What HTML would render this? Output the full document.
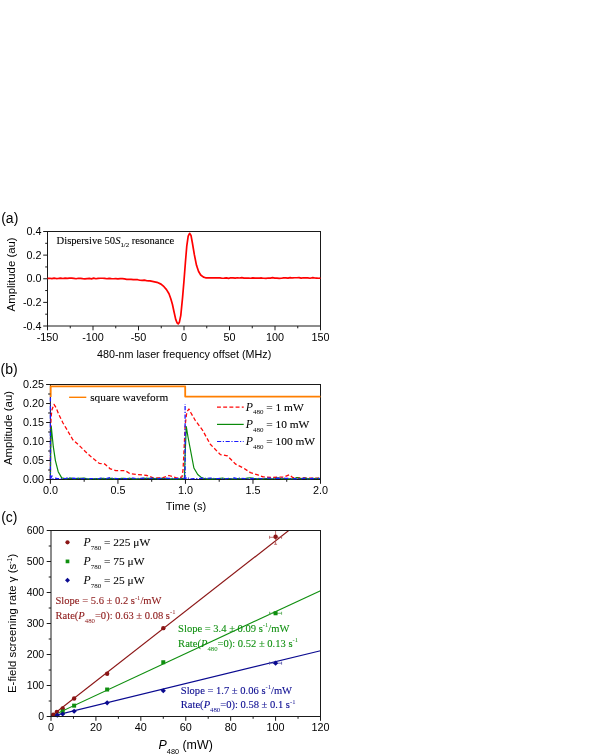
<!DOCTYPE html>
<html><head><meta charset="utf-8"><title>Figure</title>
<style>
html,body{margin:0;padding:0;background:#fff;}
body{width:595px;height:756px;overflow:hidden;font-family:"Liberation Sans",sans-serif;}
svg{display:block;will-change:transform;}
</style></head>
<body>
<svg width="595" height="756" viewBox="0 0 595 756">
<rect x="47.50" y="231.50" width="273.00" height="94.50" fill="none" stroke="#1a1a1a" stroke-width="1"/>
<line x1="43.20" y1="231.50" x2="47.50" y2="231.50" stroke="#1a1a1a" stroke-width="1" />
<text x="41.50" y="235.20" font-size="10.8" font-family='"Liberation Sans", sans-serif' text-anchor="end" fill="#000" >0.4</text>
<line x1="43.20" y1="255.12" x2="47.50" y2="255.12" stroke="#1a1a1a" stroke-width="1" />
<text x="41.50" y="258.82" font-size="10.8" font-family='"Liberation Sans", sans-serif' text-anchor="end" fill="#000" >0.2</text>
<line x1="43.20" y1="278.75" x2="47.50" y2="278.75" stroke="#1a1a1a" stroke-width="1" />
<text x="41.50" y="282.45" font-size="10.8" font-family='"Liberation Sans", sans-serif' text-anchor="end" fill="#000" >0.0</text>
<line x1="43.20" y1="302.38" x2="47.50" y2="302.38" stroke="#1a1a1a" stroke-width="1" />
<text x="41.50" y="306.07" font-size="10.8" font-family='"Liberation Sans", sans-serif' text-anchor="end" fill="#000" >-0.2</text>
<line x1="43.20" y1="326.00" x2="47.50" y2="326.00" stroke="#1a1a1a" stroke-width="1" />
<text x="41.50" y="329.70" font-size="10.8" font-family='"Liberation Sans", sans-serif' text-anchor="end" fill="#000" >-0.4</text>
<line x1="45.20" y1="243.31" x2="47.50" y2="243.31" stroke="#1a1a1a" stroke-width="1" />
<line x1="45.20" y1="266.94" x2="47.50" y2="266.94" stroke="#1a1a1a" stroke-width="1" />
<line x1="45.20" y1="290.56" x2="47.50" y2="290.56" stroke="#1a1a1a" stroke-width="1" />
<line x1="45.20" y1="314.19" x2="47.50" y2="314.19" stroke="#1a1a1a" stroke-width="1" />
<line x1="47.50" y1="326.00" x2="47.50" y2="330.30" stroke="#1a1a1a" stroke-width="1" />
<text x="47.50" y="340.60" font-size="10.8" font-family='"Liberation Sans", sans-serif' text-anchor="middle" fill="#000" >-150</text>
<line x1="93.00" y1="326.00" x2="93.00" y2="330.30" stroke="#1a1a1a" stroke-width="1" />
<text x="93.00" y="340.60" font-size="10.8" font-family='"Liberation Sans", sans-serif' text-anchor="middle" fill="#000" >-100</text>
<line x1="138.50" y1="326.00" x2="138.50" y2="330.30" stroke="#1a1a1a" stroke-width="1" />
<text x="138.50" y="340.60" font-size="10.8" font-family='"Liberation Sans", sans-serif' text-anchor="middle" fill="#000" >-50</text>
<line x1="184.00" y1="326.00" x2="184.00" y2="330.30" stroke="#1a1a1a" stroke-width="1" />
<text x="184.00" y="340.60" font-size="10.8" font-family='"Liberation Sans", sans-serif' text-anchor="middle" fill="#000" >0</text>
<line x1="229.50" y1="326.00" x2="229.50" y2="330.30" stroke="#1a1a1a" stroke-width="1" />
<text x="229.50" y="340.60" font-size="10.8" font-family='"Liberation Sans", sans-serif' text-anchor="middle" fill="#000" >50</text>
<line x1="275.00" y1="326.00" x2="275.00" y2="330.30" stroke="#1a1a1a" stroke-width="1" />
<text x="275.00" y="340.60" font-size="10.8" font-family='"Liberation Sans", sans-serif' text-anchor="middle" fill="#000" >100</text>
<line x1="320.50" y1="326.00" x2="320.50" y2="330.30" stroke="#1a1a1a" stroke-width="1" />
<text x="320.50" y="340.60" font-size="10.8" font-family='"Liberation Sans", sans-serif' text-anchor="middle" fill="#000" >150</text>
<line x1="70.25" y1="326.00" x2="70.25" y2="328.30" stroke="#1a1a1a" stroke-width="1" />
<line x1="115.75" y1="326.00" x2="115.75" y2="328.30" stroke="#1a1a1a" stroke-width="1" />
<line x1="161.25" y1="326.00" x2="161.25" y2="328.30" stroke="#1a1a1a" stroke-width="1" />
<line x1="206.75" y1="326.00" x2="206.75" y2="328.30" stroke="#1a1a1a" stroke-width="1" />
<line x1="252.25" y1="326.00" x2="252.25" y2="328.30" stroke="#1a1a1a" stroke-width="1" />
<line x1="297.75" y1="326.00" x2="297.75" y2="328.30" stroke="#1a1a1a" stroke-width="1" />
<text x="1.20" y="222.60" font-size="14" font-family='"Liberation Sans", sans-serif' text-anchor="start" fill="#000" >(a)</text>
<text x="184.10" y="357.80" font-size="10.75" font-family='"Liberation Sans", sans-serif' text-anchor="middle" fill="#000" >480-nm laser frequency offset (MHz)</text>
<text transform="translate(15.4,274.4) rotate(-90)" font-size="11.4" font-family='"Liberation Sans", sans-serif' text-anchor="middle" fill="#000">Amplitude (au)</text>
<text x="56.6" y="244.2" font-size="10.6" stroke="#000" stroke-width="0.1" font-family='"Liberation Serif", serif' fill="#000">Dispersive 50<tspan font-style="italic">S</tspan><tspan font-size="6.8" dy="3">1/2</tspan><tspan dy="-3"> resonance</tspan></text>
<polyline points="47.50,278.38 49.70,278.26 51.90,278.61 54.10,278.20 56.30,278.53 58.50,278.41 60.70,278.19 62.90,278.51 65.10,278.18 67.30,278.45 69.50,278.20 71.70,278.21 73.90,278.45 76.10,278.73 78.30,278.24 80.50,278.31 82.70,278.59 84.90,278.81 87.10,278.55 89.30,278.43 91.50,278.83 93.70,278.18 95.90,278.75 98.10,278.35 100.30,278.25 102.50,278.24 104.70,278.39 106.90,278.77 109.10,278.36 111.30,278.68 113.50,278.77 115.70,278.65 117.90,278.84 120.10,278.58 122.30,278.67 124.50,278.87 126.70,279.31 128.90,279.25 131.10,279.30 133.30,279.62 135.50,279.68 137.70,279.72 139.90,280.23 142.10,280.34 144.30,280.20 146.50,280.63 148.70,280.79 150.00,280.90 157.00,282.30 161.00,284.10 164.00,286.70 166.50,289.60 169.00,293.80 170.80,298.80 172.40,304.20 173.80,310.80 175.70,319.40 177.10,322.90 178.20,323.90 179.40,322.20 180.80,315.30 182.60,297.20 184.00,280.60 185.40,262.50 186.80,245.80 188.20,236.10 189.60,233.30 191.00,235.40 192.40,243.00 194.40,254.90 196.50,265.30 198.60,271.50 200.70,275.00 203.50,277.10 205.60,277.80 212.50,277.90 220.00,277.80 222.00,278.26 224.20,278.16 226.40,277.85 228.60,278.34 230.80,277.73 233.00,277.94 235.20,278.18 237.40,277.76 239.60,277.99 241.80,277.68 244.00,278.12 246.20,278.19 248.40,278.05 250.60,278.26 252.80,277.87 255.00,278.14 257.20,278.07 259.40,278.06 261.60,277.97 263.80,278.24 266.00,278.31 268.20,277.98 270.40,278.11 272.60,277.69 274.80,278.14 277.00,278.10 279.20,278.35 281.40,278.23 283.60,277.85 285.80,277.92 288.00,278.12 290.20,277.67 292.40,277.97 294.60,277.77 296.80,277.73 299.00,277.69 301.20,278.19 303.40,277.74 305.60,277.82 307.80,277.92 310.00,278.26 312.20,277.71 314.40,277.96 316.60,278.03 318.80,278.27 320.50,278.10" fill="none" stroke="#ff0000" stroke-width="1.7" stroke-linejoin="round" />
<rect x="50.40" y="384.50" width="270.10" height="95.00" fill="none" stroke="#1a1a1a" stroke-width="1"/>
<polyline points="50.40,478.50 50.60,440.00 51.00,418.00 51.90,409.90 54.00,404.30 56.10,407.80 58.90,414.70 63.00,423.00 67.20,430.00 72.80,439.70 78.30,444.60 85.30,451.50 92.20,457.80 99.20,463.30 104.70,464.00 110.30,468.90 115.80,470.60 125.20,470.60 130.20,473.80 138.60,474.60 147.00,475.50 153.70,478.00 162.00,478.00 168.90,475.50 177.30,478.00 182.00,477.00 183.00,470.00 183.80,455.60 185.20,425.00 186.80,412.00 188.90,409.00 191.00,413.00 195.20,420.30 202.70,430.40 210.30,444.30 220.40,454.60 227.30,455.80 235.70,464.20 244.10,468.40 250.40,472.60 257.80,474.90 263.00,476.80 271.40,477.50 284.00,477.00 289.30,474.70 292.60,477.50 305.00,478.00 320.00,478.20" fill="none" stroke="#ff0808" stroke-width="1.3" stroke-linejoin="round" stroke-dasharray="3.9 2.3"/>
<polyline points="50.40,478.80 50.70,450.00 51.25,426.50 52.20,436.00 53.30,446.70 55.40,460.60 58.20,471.70 61.70,477.90 66.00,478.80 68.00,478.52 71.10,478.08 74.20,478.82 77.30,478.44 80.40,478.31 83.50,478.18 86.60,478.65 89.70,478.83 92.80,478.75 95.90,478.61 99.00,478.85 102.10,478.38 105.20,478.60 108.30,478.71 111.40,478.43 114.50,478.89 117.60,478.50 120.70,478.47 123.80,478.24 126.90,478.70 130.00,478.28 133.10,478.84 136.20,478.83 139.30,478.77 142.40,478.27 145.50,478.44 148.60,478.33 151.70,478.33 154.80,478.55 157.90,478.62 161.00,478.39 164.10,478.51 167.20,478.74 170.30,478.84 173.40,478.83 176.50,478.64 179.60,478.82 182.00,478.60 184.40,478.60 185.30,450.00 186.30,426.60 188.00,437.00 190.10,448.00 193.90,468.00 197.70,474.50 201.50,477.60 205.00,478.70 207.00,478.78 210.10,478.64 213.20,478.90 216.30,478.56 219.40,478.65 222.50,478.00 225.60,478.75 228.70,478.71 231.80,478.73 234.90,478.89 238.00,478.48 241.10,478.75 244.20,478.73 247.30,478.07 250.40,477.75 253.50,478.39 256.60,478.79 259.70,478.72 262.80,478.79 265.90,478.71 269.00,478.61 272.10,478.77 275.20,478.67 278.30,477.81 281.40,478.74 284.50,478.65 287.60,478.86 290.70,478.80 293.80,478.87 296.90,477.67 300.00,478.68 303.10,478.45 306.20,478.37 309.30,478.87 312.40,478.47 315.50,478.51 318.60,478.23 320.00,478.60" fill="none" stroke="#0a8a0a" stroke-width="1.2" stroke-linejoin="round" />
<polyline points="50.60,478.80 52.00,475.80 53.00,478.80 55.00,478.12 57.70,478.66 60.40,478.66 63.10,478.55 65.80,478.36 68.50,477.73 71.20,478.36 73.90,478.22 76.60,478.53 79.30,478.20 82.00,478.73 84.70,478.32 87.40,478.74 90.10,478.72 92.80,478.48 95.50,478.74 98.20,478.76 100.90,478.19 103.60,478.38 106.30,478.68 109.00,477.70 111.70,478.34 114.40,478.43 117.10,478.69 119.80,478.75 122.50,478.52 125.20,478.71 127.90,478.54 130.60,478.19 133.30,478.20 136.00,478.55 138.70,478.41 141.40,478.39 144.10,478.21 146.80,478.29 149.50,478.50 152.20,478.21 154.90,478.42 157.60,478.80 160.30,478.34 163.00,478.49 165.70,478.16 168.40,478.44 171.10,478.18 173.80,478.40 176.50,478.73 179.20,478.01 181.90,478.24 184.20,478.50 185.35,478.60 187.50,477.20 189.00,478.80 191.00,478.76 193.70,478.56 196.40,478.64 199.10,478.64 201.80,478.20 204.50,478.39 207.20,478.35 209.90,478.21 212.60,478.22 215.30,478.73 218.00,478.50 220.70,478.39 223.40,478.75 226.10,478.75 228.80,478.23 231.50,478.69 234.20,477.88 236.90,478.65 239.60,478.06 242.30,478.47 245.00,478.67 247.70,478.56 250.40,478.80 253.10,478.47 255.80,478.77 258.50,478.27 261.20,478.78 263.90,478.38 266.60,478.20 269.30,478.16 272.00,478.53 274.70,478.45 277.40,478.05 280.10,478.37 282.80,478.01 285.50,478.37 288.20,478.31 290.90,478.79 293.60,478.72 296.30,478.79 299.00,478.56 301.70,478.71 304.40,478.08 307.10,478.78 309.80,478.59 312.50,478.40 315.20,478.72 317.90,478.30 320.00,478.50" fill="none" stroke="#1a1aff" stroke-width="1.2" stroke-linejoin="round" stroke-dasharray="4.2 1.6 1.2 1.6"/>
<line x1="50.40" y1="479.00" x2="50.40" y2="397.40" stroke="#1a1aff" stroke-width="1.3" stroke-dasharray="4.2 1.6 1.2 1.6"/>
<line x1="185.10" y1="479.00" x2="185.10" y2="404.00" stroke="#1a1aff" stroke-width="1.3" stroke-dasharray="4.2 1.6 1.2 1.6"/>
<polyline points="50.70,397.00 50.70,386.30 185.20,386.30 185.20,396.60 320.50,396.60" fill="none" stroke="#ff7f00" stroke-width="1.8" stroke-linejoin="round" stroke-linejoin="miter"/>
<line x1="46.10" y1="384.50" x2="50.40" y2="384.50" stroke="#1a1a1a" stroke-width="1" />
<text x="44.00" y="388.20" font-size="10.8" font-family='"Liberation Sans", sans-serif' text-anchor="end" fill="#000" >0.25</text>
<line x1="46.10" y1="403.50" x2="50.40" y2="403.50" stroke="#1a1a1a" stroke-width="1" />
<text x="44.00" y="407.20" font-size="10.8" font-family='"Liberation Sans", sans-serif' text-anchor="end" fill="#000" >0.20</text>
<line x1="46.10" y1="422.50" x2="50.40" y2="422.50" stroke="#1a1a1a" stroke-width="1" />
<text x="44.00" y="426.20" font-size="10.8" font-family='"Liberation Sans", sans-serif' text-anchor="end" fill="#000" >0.15</text>
<line x1="46.10" y1="441.50" x2="50.40" y2="441.50" stroke="#1a1a1a" stroke-width="1" />
<text x="44.00" y="445.20" font-size="10.8" font-family='"Liberation Sans", sans-serif' text-anchor="end" fill="#000" >0.10</text>
<line x1="46.10" y1="460.50" x2="50.40" y2="460.50" stroke="#1a1a1a" stroke-width="1" />
<text x="44.00" y="464.20" font-size="10.8" font-family='"Liberation Sans", sans-serif' text-anchor="end" fill="#000" >0.05</text>
<line x1="46.10" y1="479.50" x2="50.40" y2="479.50" stroke="#1a1a1a" stroke-width="1" />
<text x="44.00" y="483.20" font-size="10.8" font-family='"Liberation Sans", sans-serif' text-anchor="end" fill="#000" >0.00</text>
<line x1="48.10" y1="394.00" x2="50.40" y2="394.00" stroke="#1a1a1a" stroke-width="1" />
<line x1="48.10" y1="413.00" x2="50.40" y2="413.00" stroke="#1a1a1a" stroke-width="1" />
<line x1="48.10" y1="432.00" x2="50.40" y2="432.00" stroke="#1a1a1a" stroke-width="1" />
<line x1="48.10" y1="451.00" x2="50.40" y2="451.00" stroke="#1a1a1a" stroke-width="1" />
<line x1="48.10" y1="470.00" x2="50.40" y2="470.00" stroke="#1a1a1a" stroke-width="1" />
<line x1="50.40" y1="479.50" x2="50.40" y2="483.80" stroke="#1a1a1a" stroke-width="1" />
<text x="50.40" y="494.10" font-size="10.8" font-family='"Liberation Sans", sans-serif' text-anchor="middle" fill="#000" >0.0</text>
<line x1="117.93" y1="479.50" x2="117.93" y2="483.80" stroke="#1a1a1a" stroke-width="1" />
<text x="117.93" y="494.10" font-size="10.8" font-family='"Liberation Sans", sans-serif' text-anchor="middle" fill="#000" >0.5</text>
<line x1="185.45" y1="479.50" x2="185.45" y2="483.80" stroke="#1a1a1a" stroke-width="1" />
<text x="185.45" y="494.10" font-size="10.8" font-family='"Liberation Sans", sans-serif' text-anchor="middle" fill="#000" >1.0</text>
<line x1="252.98" y1="479.50" x2="252.98" y2="483.80" stroke="#1a1a1a" stroke-width="1" />
<text x="252.98" y="494.10" font-size="10.8" font-family='"Liberation Sans", sans-serif' text-anchor="middle" fill="#000" >1.5</text>
<line x1="320.50" y1="479.50" x2="320.50" y2="483.80" stroke="#1a1a1a" stroke-width="1" />
<text x="320.50" y="494.10" font-size="10.8" font-family='"Liberation Sans", sans-serif' text-anchor="middle" fill="#000" >2.0</text>
<line x1="84.16" y1="479.50" x2="84.16" y2="481.80" stroke="#1a1a1a" stroke-width="1" />
<line x1="151.69" y1="479.50" x2="151.69" y2="481.80" stroke="#1a1a1a" stroke-width="1" />
<line x1="219.21" y1="479.50" x2="219.21" y2="481.80" stroke="#1a1a1a" stroke-width="1" />
<line x1="286.74" y1="479.50" x2="286.74" y2="481.80" stroke="#1a1a1a" stroke-width="1" />
<text x="0.60" y="373.60" font-size="14" font-family='"Liberation Sans", sans-serif' text-anchor="start" fill="#000" >(b)</text>
<text x="186.00" y="510.30" font-size="11.1" font-family='"Liberation Sans", sans-serif' text-anchor="middle" fill="#000" >Time (s)</text>
<text transform="translate(12.4,428) rotate(-90)" font-size="11.4" font-family='"Liberation Sans", sans-serif' text-anchor="middle" fill="#000">Amplitude (au)</text>
<line x1="69.10" y1="397.30" x2="86.30" y2="397.30" stroke="#ff7f00" stroke-width="1.4" />
<text x="90.20" y="400.50" font-size="11.3" font-family='"Liberation Serif", serif' text-anchor="start" fill="#000" stroke="#000" stroke-width="0.1">square waveform</text>
<line x1="217.00" y1="407.20" x2="243.70" y2="407.20" stroke="#ff0808" stroke-width="1.3" stroke-dasharray="3.9 2.3"/>
<line x1="217.00" y1="424.40" x2="243.70" y2="424.40" stroke="#0a8a0a" stroke-width="1.2" />
<line x1="217.00" y1="441.50" x2="243.70" y2="441.50" stroke="#1a1aff" stroke-width="1.2" stroke-dasharray="4.2 1.6 1.2 1.6"/>
<text x="245.70" y="411.10" font-size="11.4" font-family='"Liberation Serif", serif' fill="#000" stroke="#000" stroke-width="0.1"><tspan font-style="italic" stroke="none" font-size="11.8">P</tspan><tspan font-size="7.0" dy="3.3" stroke="none">480</tspan><tspan dy="-3.3"> = 1 mW</tspan></text>
<text x="245.70" y="428.30" font-size="11.4" font-family='"Liberation Serif", serif' fill="#000" stroke="#000" stroke-width="0.1"><tspan font-style="italic" stroke="none" font-size="11.8">P</tspan><tspan font-size="7.0" dy="3.3" stroke="none">480</tspan><tspan dy="-3.3"> = 10 mW</tspan></text>
<text x="245.70" y="445.40" font-size="11.4" font-family='"Liberation Serif", serif' fill="#000" stroke="#000" stroke-width="0.1"><tspan font-style="italic" stroke="none" font-size="11.8">P</tspan><tspan font-size="7.0" dy="3.3" stroke="none">480</tspan><tspan dy="-3.3"> = 100 mW</tspan></text>
<clipPath id="cc"><rect x="51.0" y="530.5" width="269.50" height="186.00"/></clipPath>
<g clip-path="url(#cc)">
<line x1="51.00" y1="716.30" x2="320.50" y2="505.68" stroke="#8b1515" stroke-width="1.15" />
<line x1="51.00" y1="716.34" x2="320.50" y2="590.66" stroke="#0f8f0f" stroke-width="1.15" />
<line x1="51.00" y1="716.32" x2="320.50" y2="650.78" stroke="#0a0a90" stroke-width="1.15" />
</g>
<g clip-path="url(#cc)">
<line x1="269.58" y1="537.30" x2="281.58" y2="537.30" stroke="#b05050" stroke-width="0.8" />
<line x1="269.58" y1="535.80" x2="269.58" y2="538.80" stroke="#b05050" stroke-width="0.8" />
<line x1="281.58" y1="535.80" x2="281.58" y2="538.80" stroke="#b05050" stroke-width="0.8" />
<line x1="275.58" y1="530.30" x2="275.58" y2="544.30" stroke="#b05050" stroke-width="0.8" />
<line x1="274.08" y1="530.30" x2="277.08" y2="530.30" stroke="#b05050" stroke-width="0.8" />
<line x1="274.08" y1="544.30" x2="277.08" y2="544.30" stroke="#b05050" stroke-width="0.8" />
</g>
<line x1="269.58" y1="613.27" x2="281.58" y2="613.27" stroke="#50a850" stroke-width="0.8" />
<line x1="269.58" y1="611.77" x2="269.58" y2="614.77" stroke="#50a850" stroke-width="0.8" />
<line x1="281.58" y1="611.77" x2="281.58" y2="614.77" stroke="#50a850" stroke-width="0.8" />
<line x1="269.58" y1="663.18" x2="281.58" y2="663.18" stroke="#5050a8" stroke-width="0.8" />
<line x1="269.58" y1="661.68" x2="269.58" y2="664.68" stroke="#5050a8" stroke-width="0.8" />
<line x1="281.58" y1="661.68" x2="281.58" y2="664.68" stroke="#5050a8" stroke-width="0.8" />
<circle cx="53.25" cy="714.64" r="2.2" fill="#8b1515"/>
<circle cx="56.84" cy="711.85" r="2.2" fill="#8b1515"/>
<circle cx="62.68" cy="708.44" r="2.2" fill="#8b1515"/>
<circle cx="74.13" cy="698.52" r="2.2" fill="#8b1515"/>
<circle cx="107.15" cy="673.72" r="2.2" fill="#8b1515"/>
<circle cx="163.29" cy="628.15" r="2.2" fill="#8b1515"/>
<circle cx="275.58" cy="536.70" r="2.2" fill="#8b1515"/>
<rect x="60.68" y="709.54" width="4.0" height="4.0" fill="#0f8f0f"/>
<rect x="72.13" y="703.65" width="4.0" height="4.0" fill="#0f8f0f"/>
<rect x="105.15" y="687.53" width="4.0" height="4.0" fill="#0f8f0f"/>
<rect x="161.29" y="660.25" width="4.0" height="4.0" fill="#0f8f0f"/>
<rect x="273.58" y="611.27" width="4.0" height="4.0" fill="#0f8f0f"/>
<path d="M54.69,715.26 L57.29,712.66 L59.89,715.26 L57.29,717.86Z" fill="#0a0a90"/>
<path d="M60.08,714.02 L62.68,711.42 L65.28,714.02 L62.68,716.62Z" fill="#0a0a90"/>
<path d="M71.53,711.23 L74.13,708.63 L76.73,711.23 L74.13,713.83Z" fill="#0a0a90"/>
<path d="M104.55,702.86 L107.15,700.26 L109.75,702.86 L107.15,705.46Z" fill="#0a0a90"/>
<path d="M160.69,690.77 L163.29,688.17 L165.89,690.77 L163.29,693.37Z" fill="#0a0a90"/>
<path d="M272.98,663.18 L275.58,660.58 L278.18,663.18 L275.58,665.78Z" fill="#0a0a90"/>
<rect x="51.00" y="530.50" width="269.50" height="186.00" fill="none" stroke="#1a1a1a" stroke-width="1"/>
<line x1="46.70" y1="530.50" x2="51.00" y2="530.50" stroke="#1a1a1a" stroke-width="1" />
<text x="44.20" y="534.20" font-size="10.5" font-family='"Liberation Sans", sans-serif' text-anchor="end" fill="#000" >600</text>
<line x1="46.70" y1="561.50" x2="51.00" y2="561.50" stroke="#1a1a1a" stroke-width="1" />
<text x="44.20" y="565.20" font-size="10.5" font-family='"Liberation Sans", sans-serif' text-anchor="end" fill="#000" >500</text>
<line x1="46.70" y1="592.50" x2="51.00" y2="592.50" stroke="#1a1a1a" stroke-width="1" />
<text x="44.20" y="596.20" font-size="10.5" font-family='"Liberation Sans", sans-serif' text-anchor="end" fill="#000" >400</text>
<line x1="46.70" y1="623.50" x2="51.00" y2="623.50" stroke="#1a1a1a" stroke-width="1" />
<text x="44.20" y="627.20" font-size="10.5" font-family='"Liberation Sans", sans-serif' text-anchor="end" fill="#000" >300</text>
<line x1="46.70" y1="654.50" x2="51.00" y2="654.50" stroke="#1a1a1a" stroke-width="1" />
<text x="44.20" y="658.20" font-size="10.5" font-family='"Liberation Sans", sans-serif' text-anchor="end" fill="#000" >200</text>
<line x1="46.70" y1="685.50" x2="51.00" y2="685.50" stroke="#1a1a1a" stroke-width="1" />
<text x="44.20" y="689.20" font-size="10.5" font-family='"Liberation Sans", sans-serif' text-anchor="end" fill="#000" >100</text>
<line x1="46.70" y1="716.50" x2="51.00" y2="716.50" stroke="#1a1a1a" stroke-width="1" />
<text x="44.20" y="720.20" font-size="10.5" font-family='"Liberation Sans", sans-serif' text-anchor="end" fill="#000" >0</text>
<line x1="48.70" y1="546.00" x2="51.00" y2="546.00" stroke="#1a1a1a" stroke-width="1" />
<line x1="48.70" y1="577.00" x2="51.00" y2="577.00" stroke="#1a1a1a" stroke-width="1" />
<line x1="48.70" y1="608.00" x2="51.00" y2="608.00" stroke="#1a1a1a" stroke-width="1" />
<line x1="48.70" y1="639.00" x2="51.00" y2="639.00" stroke="#1a1a1a" stroke-width="1" />
<line x1="48.70" y1="670.00" x2="51.00" y2="670.00" stroke="#1a1a1a" stroke-width="1" />
<line x1="48.70" y1="701.00" x2="51.00" y2="701.00" stroke="#1a1a1a" stroke-width="1" />
<line x1="51.00" y1="716.50" x2="51.00" y2="720.80" stroke="#1a1a1a" stroke-width="1" />
<text x="51.00" y="731.10" font-size="10.8" font-family='"Liberation Sans", sans-serif' text-anchor="middle" fill="#000" >0</text>
<line x1="95.92" y1="716.50" x2="95.92" y2="720.80" stroke="#1a1a1a" stroke-width="1" />
<text x="95.92" y="731.10" font-size="10.8" font-family='"Liberation Sans", sans-serif' text-anchor="middle" fill="#000" >20</text>
<line x1="140.83" y1="716.50" x2="140.83" y2="720.80" stroke="#1a1a1a" stroke-width="1" />
<text x="140.83" y="731.10" font-size="10.8" font-family='"Liberation Sans", sans-serif' text-anchor="middle" fill="#000" >40</text>
<line x1="185.75" y1="716.50" x2="185.75" y2="720.80" stroke="#1a1a1a" stroke-width="1" />
<text x="185.75" y="731.10" font-size="10.8" font-family='"Liberation Sans", sans-serif' text-anchor="middle" fill="#000" >60</text>
<line x1="230.67" y1="716.50" x2="230.67" y2="720.80" stroke="#1a1a1a" stroke-width="1" />
<text x="230.67" y="731.10" font-size="10.8" font-family='"Liberation Sans", sans-serif' text-anchor="middle" fill="#000" >80</text>
<line x1="275.58" y1="716.50" x2="275.58" y2="720.80" stroke="#1a1a1a" stroke-width="1" />
<text x="275.58" y="731.10" font-size="10.8" font-family='"Liberation Sans", sans-serif' text-anchor="middle" fill="#000" >100</text>
<line x1="320.50" y1="716.50" x2="320.50" y2="720.80" stroke="#1a1a1a" stroke-width="1" />
<text x="320.50" y="731.10" font-size="10.8" font-family='"Liberation Sans", sans-serif' text-anchor="middle" fill="#000" >120</text>
<line x1="73.46" y1="716.50" x2="73.46" y2="718.80" stroke="#1a1a1a" stroke-width="1" />
<line x1="118.38" y1="716.50" x2="118.38" y2="718.80" stroke="#1a1a1a" stroke-width="1" />
<line x1="163.29" y1="716.50" x2="163.29" y2="718.80" stroke="#1a1a1a" stroke-width="1" />
<line x1="208.21" y1="716.50" x2="208.21" y2="718.80" stroke="#1a1a1a" stroke-width="1" />
<line x1="253.12" y1="716.50" x2="253.12" y2="718.80" stroke="#1a1a1a" stroke-width="1" />
<line x1="298.04" y1="716.50" x2="298.04" y2="718.80" stroke="#1a1a1a" stroke-width="1" />
<text x="1.20" y="522.40" font-size="14" font-family='"Liberation Sans", sans-serif' text-anchor="start" fill="#000" >(c)</text>
<text x="158.6" y="749.2" font-size="12.4" font-family='"Liberation Sans", sans-serif' fill="#000"><tspan font-style="italic">P</tspan><tspan font-size="7.3" dy="5">480</tspan><tspan dy="-5"> (mW)</tspan></text>
<text transform="translate(16.4,623.4) rotate(-90)" font-size="11.4" font-family='"Liberation Sans", sans-serif' text-anchor="middle" fill="#000">E-field screening rate γ (s<tspan font-size="7" dy="-4">-1</tspan><tspan dy="4">)</tspan></text>
<circle cx="67.50" cy="542.30" r="2.1" fill="#8b1515"/>
<rect x="65.65" y="559.55" width="3.7" height="3.7" fill="#0f8f0f"/>
<path d="M65.00,580.20 L67.50,577.70 L70.00,580.20 L67.50,582.70Z" fill="#0a0a90"/>
<text x="83.50" y="545.80" font-size="11.4" font-family='"Liberation Serif", serif' fill="#000" stroke="#000" stroke-width="0.1"><tspan font-style="italic" stroke="none" font-size="11.8">P</tspan><tspan font-size="7.0" dy="4.6" stroke="none">780</tspan><tspan dy="-4.6"> = 225 μW</tspan></text>
<text x="83.50" y="564.70" font-size="11.4" font-family='"Liberation Serif", serif' fill="#000" stroke="#000" stroke-width="0.1"><tspan font-style="italic" stroke="none" font-size="11.8">P</tspan><tspan font-size="7.0" dy="4.6" stroke="none">780</tspan><tspan dy="-4.6"> = 75 μW</tspan></text>
<text x="83.50" y="583.60" font-size="11.4" font-family='"Liberation Serif", serif' fill="#000" stroke="#000" stroke-width="0.1"><tspan font-style="italic" stroke="none" font-size="11.8">P</tspan><tspan font-size="7.0" dy="4.6" stroke="none">780</tspan><tspan dy="-4.6"> = 25 μW</tspan></text>
<text x="55.50" y="604.40" font-size="10.55" font-family='"Liberation Serif", serif' fill="#8b1515" stroke="#8b1515" stroke-width="0.1">Slope = 5.6 ± 0.2 s<tspan font-size="6.54" dy="-4.8" stroke="none">-1</tspan><tspan dy="4.8">/mW</tspan></text>
<text x="55.50" y="619.00" font-size="10.55" font-family='"Liberation Serif", serif' fill="#8b1515" stroke="#8b1515" stroke-width="0.1">Rate(<tspan font-style="italic">P</tspan><tspan font-size="6.75" dy="3.5" stroke="none">480</tspan><tspan dy="-3.5">=0): 0.63 ± 0.08 s</tspan><tspan font-size="6.54" dy="-4.8" stroke="none">-1</tspan></text>
<text x="178.10" y="632.20" font-size="10.55" font-family='"Liberation Serif", serif' fill="#0f8f0f" stroke="#0f8f0f" stroke-width="0.1">Slope = 3.4 ± 0.09 s<tspan font-size="6.54" dy="-4.8" stroke="none">-1</tspan><tspan dy="4.8">/mW</tspan></text>
<text x="178.10" y="647.00" font-size="10.55" font-family='"Liberation Serif", serif' fill="#0f8f0f" stroke="#0f8f0f" stroke-width="0.1">Rate(<tspan font-style="italic">P</tspan><tspan font-size="6.75" dy="3.5" stroke="none">480</tspan><tspan dy="-3.5">=0): 0.52 ± 0.13 s</tspan><tspan font-size="6.54" dy="-4.8" stroke="none">-1</tspan></text>
<text x="180.80" y="694.00" font-size="10.55" font-family='"Liberation Serif", serif' fill="#0a0a90" stroke="#0a0a90" stroke-width="0.1">Slope = 1.7 ± 0.06 s<tspan font-size="6.54" dy="-4.8" stroke="none">-1</tspan><tspan dy="4.8">/mW</tspan></text>
<text x="180.80" y="708.30" font-size="10.55" font-family='"Liberation Serif", serif' fill="#0a0a90" stroke="#0a0a90" stroke-width="0.1">Rate(<tspan font-style="italic">P</tspan><tspan font-size="6.75" dy="3.5" stroke="none">480</tspan><tspan dy="-3.5">=0): 0.58 ± 0.1 s</tspan><tspan font-size="6.54" dy="-4.8" stroke="none">-1</tspan></text>
</svg>
</body></html>
